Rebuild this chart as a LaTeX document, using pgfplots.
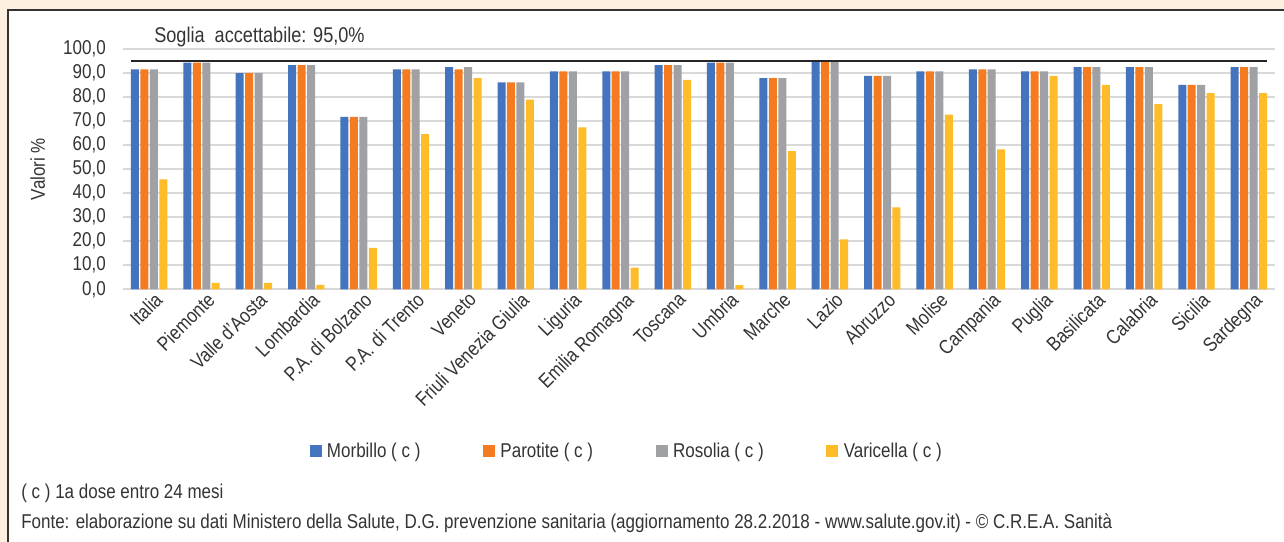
\documentclass[border=0pt]{standalone}
\usepackage{fontspec}
\setmainfont{Liberation Sans}[FakeStretch=0.85]
\usepackage{pgfplots}
\usepackage{pgfplotstable}
\pgfplotsset{compat=1.18}

\definecolor{cMorb}{RGB}{67,116,189}
\definecolor{cParo}{RGB}{244,123,32}
\definecolor{cRoso}{RGB}{160,161,165}
\definecolor{cVari}{RGB}{255,188,41}
\definecolor{peach}{RGB}{254,240,225}
\definecolor{txt}{RGB}{52,52,52}
\definecolor{gridc}{RGB}{217,217,217}

% x m p r v : Morbillo, Parotite, Rosolia, Varicella (1a dose entro 24 mesi)
\pgfplotstableread{
x  m    p    r    v
0  91.4 91.4 91.4 45.7
1  94.2 94.2 94.2 2.7
2  89.8 89.8 89.8 2.7
3  93.2 93.2 93.2 1.9
4  71.7 71.7 71.7 17.2
5  91.4 91.4 91.4 64.5
6  92.3 91.4 92.3 87.8
7  86.0 86.0 86.0 78.8
8  90.6 90.6 90.6 67.3
9  90.6 90.6 90.6 9.0
10 93.2 93.2 93.2 87.0
11 94.2 94.2 94.2 1.8
12 87.8 87.8 87.8 57.4
13 95.0 95.0 95.0 20.8
14 88.7 88.7 88.7 34.1
15 90.6 90.6 90.6 72.6
16 91.4 91.4 91.4 58.2
17 90.6 90.6 90.6 88.7
18 92.3 92.3 92.3 85.0
19 92.3 92.3 92.3 77.0
20 85.0 85.0 85.0 81.5
21 92.3 92.3 92.3 81.5
}\vacc

\pgfplotsset{sq/.style={legend image code/.code={\fill[##1] (0pt,-4.5pt) rectangle (9pt,4.5pt);}}}

\begin{document}
\begin{tikzpicture}[font=\fontsize{15}{18}\selectfont, text=txt]
\fill[peach] (0,0) rectangle (963pt,406.5pt);
\fill[white] (6pt,0) rectangle (963pt,399pt);
\draw[line width=0.9pt, black!80] (6pt,0) -- (6pt,399pt) -- (963pt,399pt);

\begin{axis}[
  at={(92.25pt,189.5pt)}, anchor=south west,
  scale only axis, width=864pt, height=180.5pt,
  ymin=0, ymax=100, ytick distance=10,
  xmin=-0.5, xmax=21.5,
  xtick=data,
  xticklabels={Italia, Piemonte, Valle d'Aosta, Lombardia, P.A. di Bolzano, P.A. di Trento, Veneto, Friuli Venezia Giulia, Liguria, Emilia Romagna, Toscana, Umbria, Marche, Lazio, Abruzzo, Molise, Campania, Puglia, Basilicata, Calabria, Sicilia, Sardegna},
  ybar=1.1pt, bar width=6pt,
  axis line style={draw=none},
  major tick length=0pt,
  ymajorgrids, grid style={line width=1.3pt, gridc},
  /pgf/number format/fixed, /pgf/number format/fixed zerofill,
  /pgf/number format/precision=1, /pgf/number format/use comma,
  /pgf/number format/assume math mode=true,
  tick label style={font=\fontsize{15}{18}\selectfont, text=txt},
  yticklabel style={inner sep=0pt, xshift=-12.75pt},
  xticklabel style={rotate=45, anchor=north east, inner sep=1pt, xshift=2.5pt, yshift=-2pt},
  ylabel={Valori \%},
  ylabel style={at={(axis description cs:-0.074,0.5)}, anchor=center, font=\fontsize{15}{18}\selectfont, text=txt},
  legend columns=4,
  legend style={draw=none, fill=none, at={(0.4375,-0.672)}, anchor=center,
    font=\fontsize{15}{18}\selectfont, text=txt,
    /tikz/every even column/.append style={column sep=45pt},
    /tikz/every odd column/.append style={column sep=2pt}},
]
\addplot[fill=cMorb, draw=none, sq] table[x=x, y=m] {\vacc};
\addplot[fill=cParo, draw=none, sq] table[x=x, y=p] {\vacc};
\addplot[fill=cRoso, draw=none, sq] table[x=x, y=r] {\vacc};
\addplot[fill=cVari, draw=none, sq] table[x=x, y=v] {\vacc};
\addplot[sharp plot, black!85, line width=1.5pt, forget plot] coordinates {(-0.35,95) (21.35,95)};
\legend{Morbillo ( c ), Parotite ( c ), Rosolia ( c ), Varicella ( c )}
\end{axis}

\node[anchor=base west, inner sep=0pt, font=\fontsize{16}{19}\selectfont] at (115.5pt,374.25pt) {Soglia\ \ accettabile: 95,0\%};
\node[anchor=base west, inner sep=0pt] at (15.75pt,32.25pt) {( c ) 1a dose entro 24 mesi};
\node[anchor=base west, inner sep=0pt] at (15.75pt,9.75pt) {Fonte: elaborazione su dati Ministero della Salute, D.G. prevenzione sanitaria (aggiornamento 28.2.2018 - www.salute.gov.it) - © C.R.E.A. Sanità};

\pgfresetboundingbox
\useasboundingbox (0,0) rectangle (963pt,406.5pt);
\end{tikzpicture}
\end{document}
